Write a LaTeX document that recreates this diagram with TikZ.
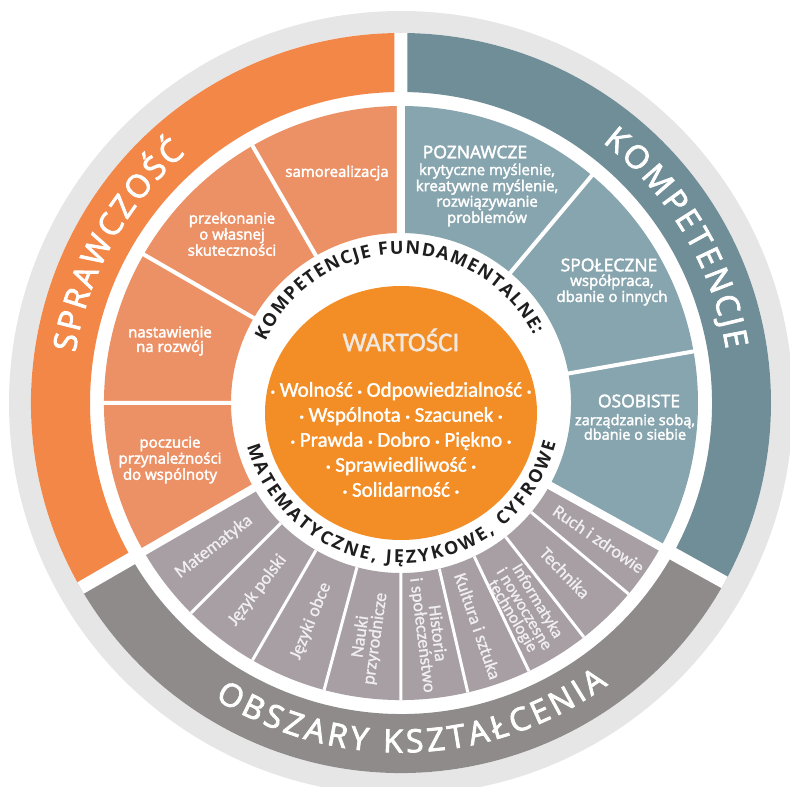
\documentclass[tikz,border=0pt]{standalone}
\usepackage{fontspec}
\setmainfont{Open Sans}
\newfontfamily\semifont{Open Sans}[FakeBold=2.5]
\newfontfamily\calibri{Carlito}[FakeBold=1]
\newfontfamily\calibrisemi{Carlito}[FakeBold=1.5]
\usetikzlibrary{decorations.text}

\definecolor{lightring}{RGB}{230,230,230}
\definecolor{orangeout}{RGB}{242,135,72}
\definecolor{orangein}{RGB}{236,145,102}
\definecolor{discorange}{RGB}{243,142,38}
\definecolor{tealout}{RGB}{111,142,152}
\definecolor{tealin}{RGB}{135,165,174}
\definecolor{grayout}{RGB}{143,139,139}
\definecolor{grayin}{RGB}{167,159,163}
\definecolor{ringdark}{RGB}{30,30,30}
\definecolor{subjectwhite}{RGB}{240,238,239}
\definecolor{titlewhite}{RGB}{240,232,225}

\newcommand{\ringfont}{\bfseries\fontsize{18}{18}\selectfont}
\newcommand{\outerfont}{\semifont\fontsize{32}{32}\selectfont}
\newcommand{\vd}{\raisebox{2pt}{\small•}}

\begin{document}
\begin{tikzpicture}[x=1pt, y=1pt,
  gap/.style={white, line width=13pt},
  bigsep/.style={white, line width=8pt},
  sep/.style={white, line width=4pt},
  thinsep/.style={white, line width=3pt},
  sectortext/.style={text=white, align=center, font=\semifont\fontsize{15}{14.5}\selectfont},
  headtext/.style={text=white, font=\semifont\fontsize{17.5}{18}\selectfont},
  subjecttext/.style={text=subjectwhite, align=center, inner sep=0pt, font=\calibri\fontsize{18}{15}\selectfont},
  valuetext/.style={text=white, align=center, font=\calibrisemi\fontsize{21}{25}\selectfont},
]
\useasboundingbox (-401,-384) rectangle (389,403);

% Background
\fill[lightring] (0,0) circle[radius=392];
\fill[white] (0,0) circle[radius=370];

% Outer ring
\fill[orangeout] (90:311) arc[start angle=90, end angle=210, radius=311] -- (210:370) arc[start angle=210, end angle=90, radius=370] -- cycle;
\fill[tealout] (-29:311) arc[start angle=-29, end angle=90, radius=311] -- (90:370) arc[start angle=90, end angle=-29, radius=370] -- cycle;
\fill[grayout] (210:311) arc[start angle=210, end angle=331, radius=311] -- (331:370) arc[start angle=331, end angle=210, radius=370] -- cycle;
\draw[gap] (90:305) -- (90:370) (210:305) -- (210:370) (331:305) -- (331:370);

% Sector ring
\fill[orangein] (90:170) arc[start angle=90, end angle=210, radius=170] -- (210:297) arc[start angle=210, end angle=90, radius=297] -- cycle;
\fill[tealin] (-29:170) arc[start angle=-29, end angle=90, radius=170] -- (90:297) arc[start angle=90, end angle=-29, radius=297] -- cycle;
\fill[grayin] (210:170) arc[start angle=210, end angle=331, radius=170] -- (331:297) arc[start angle=331, end angle=210, radius=297] -- cycle;
\draw[bigsep] (90:165) -- (90:300) (210:165) -- (210:300) (331:165) -- (331:300);
\draw[sep] (120:165) -- (120:300) (150:165) -- (150:300) (180:165) -- (180:300)
  (50:165) -- (50:300) (10:165) -- (10:300);
\draw[thinsep] (225:170) -- (225:297) (240:170) -- (240:297) (255:170) -- (255:297)
  (270:170) -- (270:297) (283:170) -- (283:297) (295.5:170) -- (295.5:297)
  (308:170) -- (308:297) (320:170) -- (320:297);

% Disc
\fill[discorange] (0,-10) ellipse[x radius=136, y radius=127];

% Outer ring labels
\path[decorate, decoration={text along path, text color=white, text align={fit to path},
  text={|\outerfont|SPRAWCZOŚĆ}}] (171.2:329.5) arc[start angle=171.2, end angle=130.8, radius=329.5];
\path[decorate, decoration={text along path, text color=white, text align={fit to path},
  text={|\outerfont|KOMPETENCJE}}] (52.3:329.5) arc[start angle=52.3, end angle=9.4, radius=329.5];
\path[decorate, decoration={text along path, text color=white, text align={fit to path},
  text={|\outerfont|OBSZARY KSZTAŁCENIA}}] (237.8:349.5) arc[start angle=237.8, end angle=306.3, radius=349.5];

% Ring labels
\path[decorate, decoration={text along path, text color=ringdark, text align={fit to path},
  text={|\ringfont|KOMPETENCJE FUNDAMENTALNE:}}] (155.5:149) arc[start angle=155.5, end angle=27, radius=149];
\path[decorate, decoration={text along path, text color=ringdark, text align={fit to path},
  text={|\ringfont|MATEMATYCZNE{,} JĘZYKOWE{,} CYFROWE}}] (195.8:160) arc[start angle=195.8, end angle=345.5, radius=160];

% Orange sectors
\node[sectortext] (samorealizacja) at (-64,230) {samorealizacja};
\node[sectortext] (przekonanie) at (-169,169) {przekonanie\\o własnej\\skuteczności};
\node[sectortext] (nastawienie) at (-231,62) {nastawienie\\na rozwój};
\node[sectortext] (poczucie) at (-231,-57) {poczucie\\przynależności\\do wspólnoty};

% Teal sectors
\node[headtext] (poznawcze) at (74,251) {POZNAWCZE};
\node[sectortext] (poznawczetxt) at (86,208) {krytyczne myślenie,\\kreatywne myślenie,\\rozwiązywanie\\problemów};
\node[headtext] (spoleczne) at (208,138) {SPOŁECZNE};
\node[sectortext] (spolecznetxt) at (211,113) {współpraca,\\dbanie o innych};
\node[headtext] (osobiste) at (238,2) {OSOBISTE};
\node[sectortext, font=\semifont\fontsize{14.5}{14.5}\selectfont] (osobistetxt) at (234,-24) {zarządzanie sobą,\\dbanie o siebie};

% Gray sectors
\node[subjecttext, rotate=37.5] (matematyka) at (217.5:236) {Matematyka};
\node[subjecttext, rotate=52.5] (polski) at (232.5:236) {Język polski};
\node[subjecttext, rotate=67.5] (obce) at (247.5:236) {Języki obce};
\node[subjecttext, rotate=82] (nauki) at (262:237) {Nauki\\przyrodnicze};
\node[subjecttext, rotate=-83] (historia) at (277:233) {Historia\\i społeczeństwo};
\node[subjecttext, rotate=-71] (kultura) at (289:236) {Kultura i sztuka};
\node[subjecttext, rotate=-59, font=\calibri\fontsize{17}{13.5}\selectfont] (informatyka) at (301:240) {Informatyka\\i nowoczesne\\technologie};
\node[subjecttext, rotate=-46] (technika) at (314:236) {Technika};
\node[subjecttext, rotate=-34.5] (ruch) at (325.5:240) {Ruch i zdrowie};

% Values
\node[text=titlewhite, font=\calibrisemi\fontsize{27}{27}\selectfont] (wartosci) at (0,63) {WARTOŚCI};
\node[valuetext] (values) at (0,-36.5) {\vd{} Wolność \vd{} Odpowiedzialność \vd\\
  \vd{} Wspólnota \vd{} Szacunek \vd\\
  \vd{} Prawda \vd{} Dobro \vd{} Piękno \vd\\
  \vd{} Sprawiedliwość \vd\\
  \vd{} Solidarność \vd};
\end{tikzpicture}
\end{document}
